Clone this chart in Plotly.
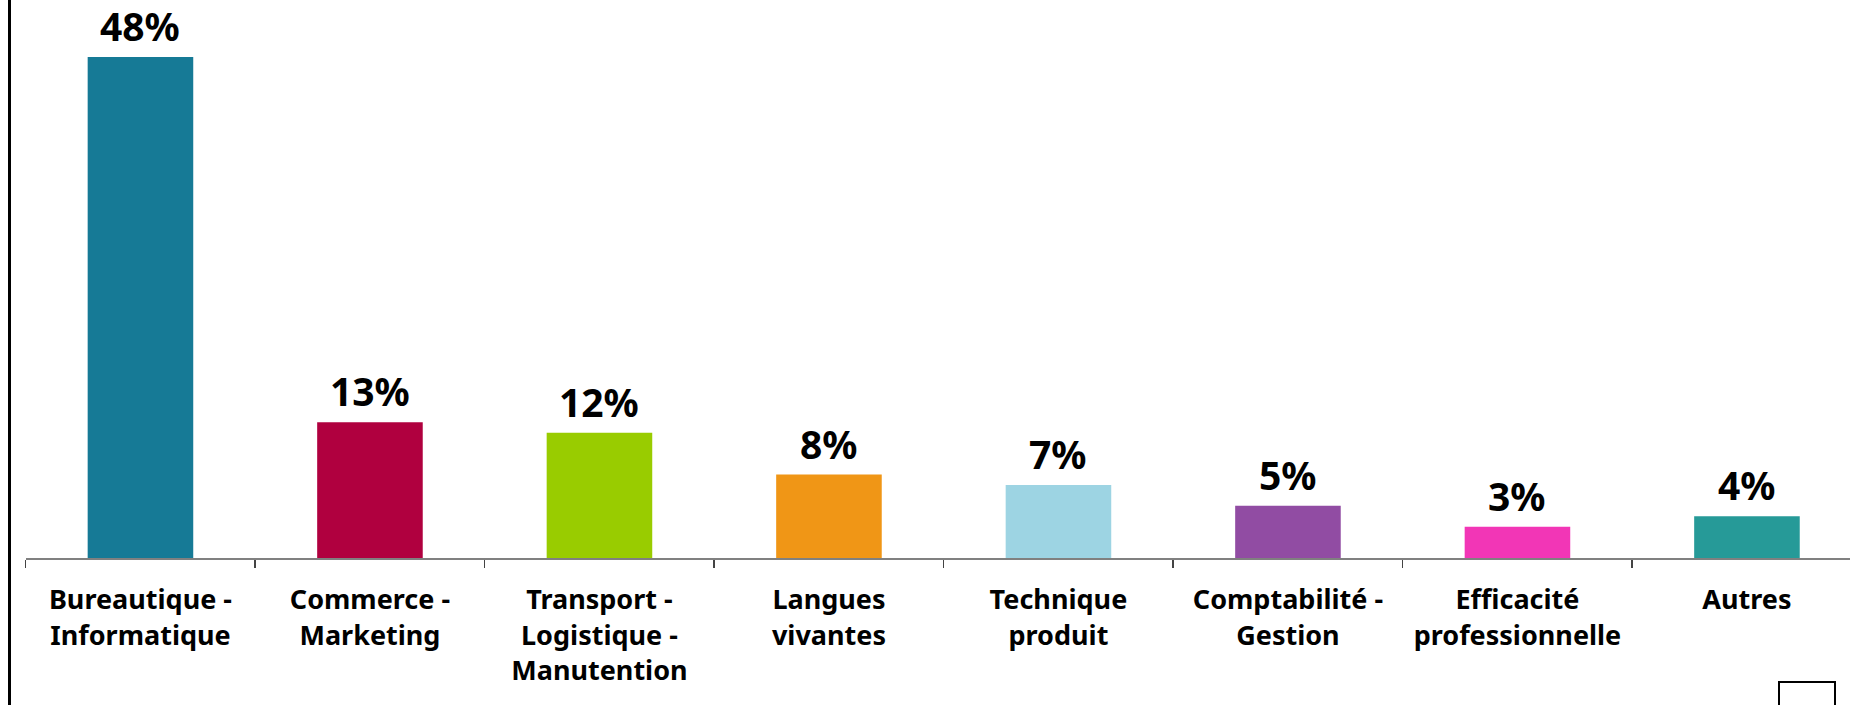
import plotly.graph_objects as go

categories = [
    "Bureautique -<br>Informatique",
    "Commerce -<br>Marketing",
    "Transport -<br>Logistique -<br>Manutention",
    "Langues<br>vivantes",
    "Technique<br>produit",
    "Comptabilité -<br>Gestion",
    "Efficacité<br>professionnelle",
    "Autres",
]
values = [48, 13, 12, 8, 7, 5, 3, 4]
colors = ["#167A96", "#B0003F", "#99CC00", "#F09616", "#9DD4E3", "#914CA3", "#F236B6", "#269A98"]
value_labels = [f"{v}%" for v in values]

W, H = 1850, 705
FONT = "Noto Sans"

fig = go.Figure()
fig.add_trace(go.Bar(
    x=categories,
    y=values,
    marker=dict(color=colors, line=dict(width=0)),
    width=0.46,
    hoverinfo="skip",
))

for c, v, t in zip(categories, values, value_labels):
    fig.add_annotation(
        x=c, y=v, text=t, showarrow=False, xref="x", yref="y",
        yanchor="bottom", yshift=3,
        font=dict(family=FONT, size=39, color="black", weight="bold"),
    )

# left frame line
fig.add_shape(type="line", xref="paper", yref="paper",
              x0=9.5 / W, x1=9.5 / W, y0=0, y1=1,
              line=dict(color="black", width=3))
# small square bottom-right
fig.add_shape(type="rect", xref="paper", yref="paper",
              x0=1779 / W, x1=1835 / W, y0=-0.05, y1=(H - 682) / H,
              line=dict(color="black", width=2), fillcolor="rgba(0,0,0,0)")

fig.update_layout(
    width=W, height=H,
    template="none",
    paper_bgcolor="white", plot_bgcolor="white",
    margin=dict(l=0, r=0, t=0, b=0),
    showlegend=False,
    bargap=0.54,
    hovermode=False,
    xaxis=dict(
        type="category",
        domain=[25.7 / W, 1],
        range=[-0.5, 7.449],
        tickson="boundaries",
        ticks="outside", ticklen=8, tickwidth=1.5, tickcolor="#444444",
        showline=True, linecolor="#808080", linewidth=2,
        showgrid=False, zeroline=False,
        tickfont=dict(family=FONT, size=27, color="black", weight="bold"),
        ticklabelstandoff=17,
        automargin=False,
        fixedrange=True,
    ),
    yaxis=dict(
        domain=[(H - 558) / H, 1],
        range=[0, 558 / (501 / 48)],
        showticklabels=False, ticks="", showgrid=False, zeroline=False,
        showline=False, automargin=False, fixedrange=True,
    ),
)

fig.write_html(
    "out.html",
    config={"displayModeBar": False, "staticPlot": True},
    post_script="document.body.style.margin='0';document.body.style.overflow='hidden';",
)
